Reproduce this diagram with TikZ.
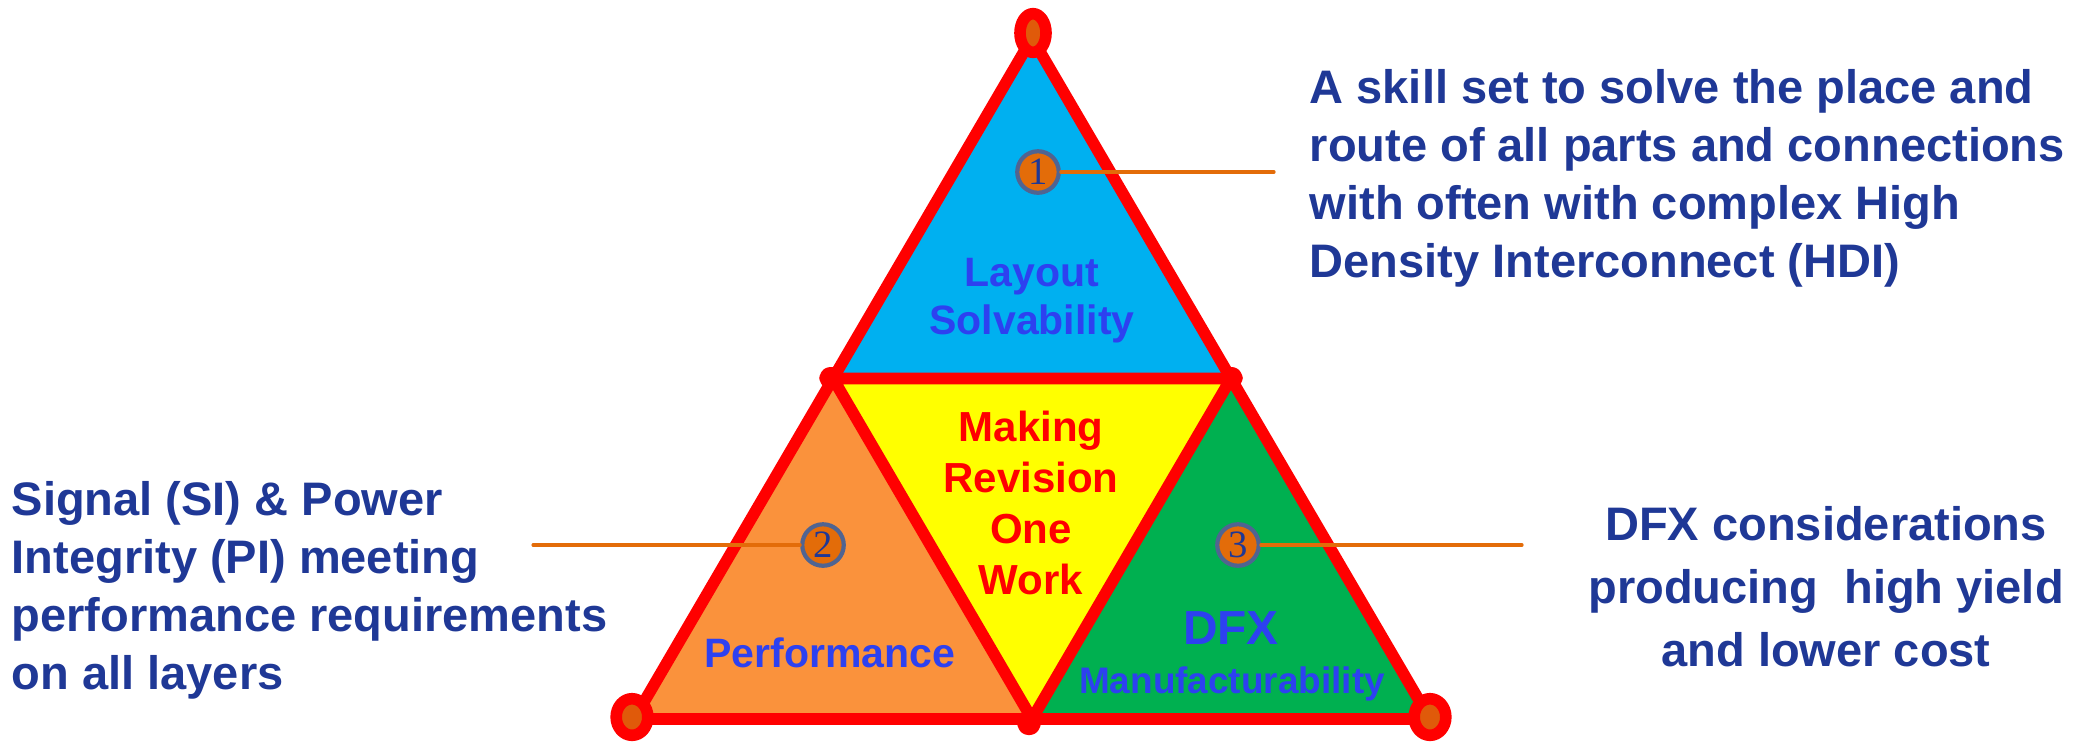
\documentclass[tikz,border=0pt]{standalone}
\usepackage{fontspec}
\setmainfont{Liberation Sans}
\newfontfamily\numfont{Liberation Serif}
\usetikzlibrary{shapes.geometric}

\definecolor{edgered}{RGB}{255,0,0}
\definecolor{skyfill}{RGB}{0,176,240}
\definecolor{perffill}{RGB}{250,146,60}
\definecolor{revfill}{RGB}{255,255,0}
\definecolor{dfxfill}{RGB}{0,176,80}
\definecolor{dotfill}{RGB}{224,90,10}
\definecolor{markfill}{RGB}{227,108,9}
\definecolor{markrim}{RGB}{80,100,145}
\definecolor{notecol}{RGB}{31,56,150}
\definecolor{labelcol}{RGB}{45,65,240}

\def\edgew{3.3pt}
\def\fsz#1#2{\fontsize{#1}{#2}\selectfont\bfseries}

\begin{document}
\begin{tikzpicture}[x=0.01cm, y=-0.01cm, line cap=round, line join=round,
    edge/.style={draw=edgered, line width=\edgew},
    vdot/.style={ellipse, draw=edgered, fill=dotfill, line width=\edgew, inner sep=0pt},
    marker/.style={circle, draw=markrim, fill=markfill, line width=1.2pt,
                   minimum size=11.8pt, inner sep=0pt, text=notecol,
                   font=\numfont\fontsize{11}{12}\selectfont},
    leader/.style={draw=markfill, line width=0.9pt},
    note/.style={inner sep=0pt, text=notecol, font=\fsz{13.37}{16.5}},
    label/.style={inner sep=0pt, text=labelcol, align=center}
  ]
  \useasboundingbox (0,0) rectangle (2088,744);

  % corners of the big triangle and the mid points
  \coordinate (T)  at (1032,38);
  \coordinate (BL) at (634,719);
  \coordinate (BR) at (1430,719);
  \coordinate (ML) at (833,378.5);
  \coordinate (MR) at (1231,378.5);
  \coordinate (BM) at (1032,719);

  \fill[skyfill]  (T) -- (ML) -- (MR) -- cycle;
  \fill[perffill] (ML) -- (BL) -- (BM) -- cycle;
  \fill[dfxfill]  (MR) -- (BM) -- (BR) -- cycle;
  \fill[revfill]  (ML) -- (MR) -- (BM) -- cycle;

  \draw[edge] (T) -- (BL) -- (BR) -- cycle;
  \draw[edge] (ML) -- (MR) -- (BM) -- cycle;

  % vertex dots
  \node[vdot, minimum width=7.4pt, minimum height=11pt] (dT) at (1033,33) {};
  \foreach \c/\x in {dBL/632, dBR/1430}
    \node[vdot, minimum width=9pt, minimum height=10.4pt] (\c) at (\x,717) {};
  \foreach \c/\x/\y in {dML/831/378, dMR/1231/378, dBM/1029/724}
    \node[vdot, minimum width=3.4pt, minimum height=3pt] (\c) at (\x,\y) {};

  % labels inside the triangles
  \node[label, anchor=north, font=\fsz{11.67}{13.66}] (layout) at (1032,258)
    {Layout\\Solvability};
  \node[label, anchor=north, text=edgered, font=\fsz{11.95}{14.5}] (rev) at (1031,410)
    {Making\\Revision\\One\\Work};
  \node[label, anchor=base, font=\fsz{11.67}{13.66}] (perf) at (830,667) {Performance};
  \node[label, anchor=base, font=\fsz{13.6}{16}] (dfx) at (1231,644) {DFX};
  \node[label, anchor=base, font=\fsz{10.5}{12}] (manu) at (1232,693) {Manufacturability};

  % numbered markers and their leaders
  \node[marker] (m1) at (1038,172) {1};
  \node[marker] (m2) at (823,545)  {2};
  \node[marker] (m3) at (1238,545) {3};
  \foreach \n/\ex/\ey in {1/1274/172, 2/533/545, 3/1522/545}{
    \coordinate (e\n) at (\ex,\ey);
    \draw[leader] (m\n) -- (e\n);
  }

  % the notes
  \node[note, anchor=north west, align=left] (skill) at (1309,69)
    {A skill set to solve the place and\\route of all parts and connections\\%
     with often with complex High\\Density Interconnect (HDI)};
  \node[note, anchor=north west, align=left] (sipi) at (11,481)
    {Signal (SI) \& Power\\Integrity (PI) meeting\\performance requirements\\on all layers};
  \node[note, anchor=north, align=center, font=\fsz{13.37}{17.9}] (yield) at (1826,506)
    {DFX considerations\\producing\ \ high yield\\and lower cost};
\end{tikzpicture}
\end{document}
